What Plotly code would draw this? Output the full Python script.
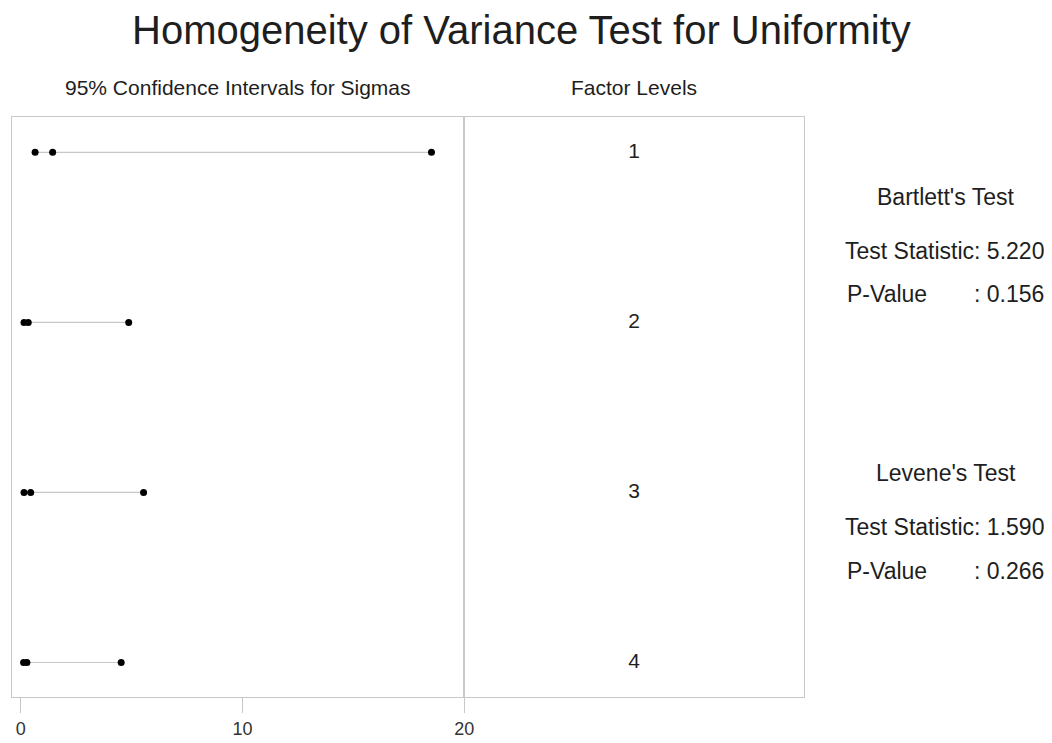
import plotly.graph_objects as go

levels = ["1", "2", "3", "4"]
level_pos = [1, 2, 3, 4]
lower = [0.65, 0.15, 0.15, 0.13]
sigma = [1.44, 0.34, 0.45, 0.28]
upper = [18.52, 4.87, 5.54, 4.53]
x_ticks = [0, 10, 20]

title = "Homogeneity of Variance Test for Uniformity"
bartlett = {"stat": "5.220", "p": "0.156"}
levene = {"stat": "1.590", "p": "0.266"}

W, H = 1052, 743
OFF = 8  # page body margin offset
L, R, T, B = 12 - OFF, 804 - OFF, 117 - OFF, 697 - OFF
pw, ph = R - L, B - T


def px(x):
    return (x - OFF - L) / pw


def py(y):
    return (B - (y - OFF)) / ph


split = px(464.3)
grid = "#c8c8c8"
txt = "#1e1e1e"
font = "Arial, Liberation Sans, sans-serif"

fig = go.Figure()
for i in range(len(levels)):
    fig.add_trace(go.Scatter(
        x=[lower[i], upper[i]], y=[level_pos[i], level_pos[i]], mode="lines",
        line=dict(color=grid, width=1.2), showlegend=False, hoverinfo="skip"))
    fig.add_trace(go.Scatter(
        x=[lower[i], sigma[i], upper[i]], y=[level_pos[i]] * 3, mode="markers",
        marker=dict(color="black", size=7), showlegend=False))

fig.add_trace(go.Scatter(
    x=[0.5] * len(levels), y=level_pos, text=levels, mode="text",
    textfont=dict(size=21, color=txt, family=font), xaxis="x2", yaxis="y2",
    showlegend=False, hoverinfo="skip"))

yr = [4.203, 0.792]
fig.update_layout(
    width=W, height=H, plot_bgcolor="white", paper_bgcolor="white",
    margin=dict(l=L, r=W - R, t=T, b=H - B, autoexpand=False),
    font=dict(family=font, color=txt),
    xaxis=dict(domain=[0, split], range=[-0.392, 20], tickvals=x_ticks,
               ticks="outside", ticklen=15, tickcolor=grid, tickwidth=1,
               showgrid=False, zeroline=False, showline=True, linecolor=grid,
               mirror=True, tickfont=dict(size=18, color="#333"), automargin=False),
    yaxis=dict(range=yr, showticklabels=False, showgrid=False, zeroline=False,
               showline=True, linecolor=grid, mirror=True, ticks="", automargin=False),
    xaxis2=dict(domain=[split, 1], range=[0, 1], showticklabels=False, showgrid=False,
                zeroline=False, showline=True, linecolor=grid, mirror=True,
                ticks="", anchor="y2", automargin=False),
    yaxis2=dict(range=yr, showticklabels=False, showgrid=False, zeroline=False,
                showline=True, linecolor=grid, mirror=True, ticks="", anchor="x2",
                automargin=False),
)

ann = [
    (title, 521, 30, "center", 40),
    ("95% Confidence Intervals for Sigmas", 237.5, 87, "center", 21),
    ("Factor Levels", 634, 87, "center", 21),
    ("Bartlett's Test", 946, 197, "center", 23),
    ("Test Statistic: " + bartlett["stat"], 1046, 251, "right", 23),
    ("P-Value", 845, 294, "left", 23),
    (": " + bartlett["p"], 1046, 294, "right", 23),
    ("Levene's Test", 946, 473, "center", 23),
    ("Test Statistic: " + levene["stat"], 1046, 527, "right", 23),
    ("P-Value", 845, 571, "left", 23),
    (": " + levene["p"], 1046, 571, "right", 23),
]
for text, x, y, anchor, size in ann:
    fig.add_annotation(text=text, x=px(x), y=py(y), xref="paper", yref="paper",
                       xanchor=anchor, yanchor="middle", showarrow=False,
                       font=dict(size=size, color=txt, family=font))

fig.write_html("out.html")
